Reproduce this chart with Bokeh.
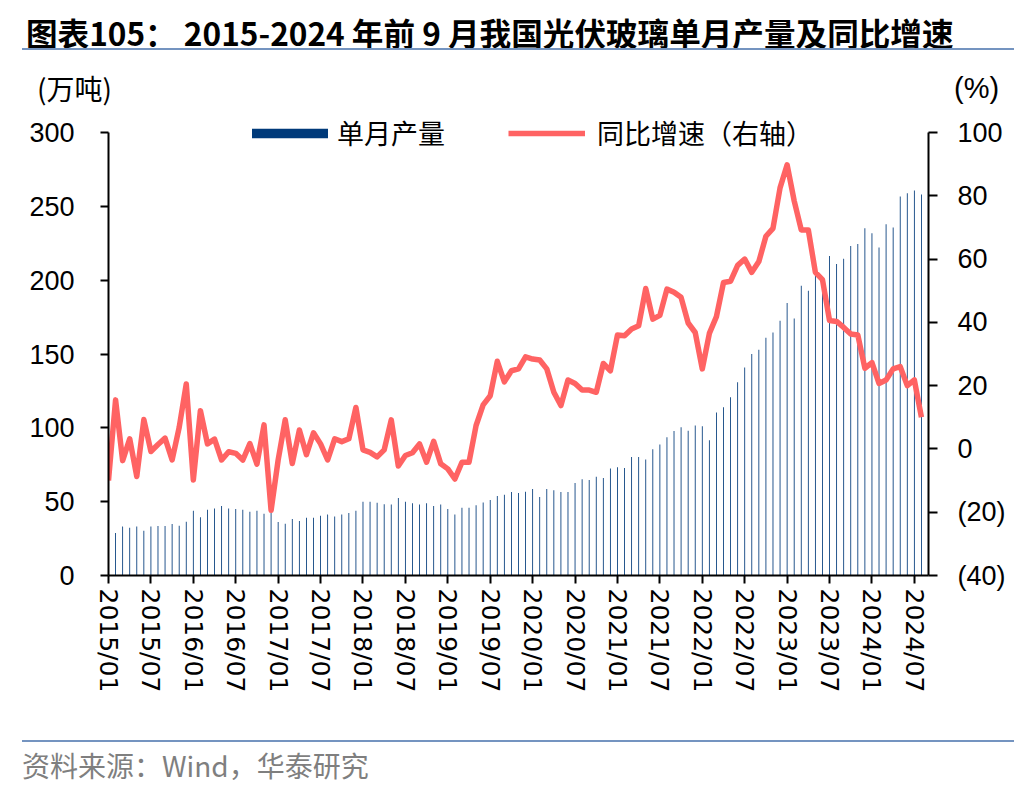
import numpy as np
from bokeh.plotting import figure
from bokeh.layouts import column
from bokeh.models import (Range1d, LinearAxis, FixedTicker, ColumnDataSource,
                          Legend, LegendItem, Div)
from bokeh.embed import file_html
from bokeh.resources import INLINE

# ---------------- data ----------------
months = [f"{y}/{m:02d}" for y in range(2015, 2025) for m in range(1, 13)][:116]

production = [  # 万吨
    np.nan, 28.8, 33.2, 32.3, 33.2, 30.3, 33.2, 33.5, 33.5, 34.8, 33.7, 36.4,
    43.8, 39.5, 44.6, 45.3, 47.0, 45.4, 45.1, 44.5, 43.1, 43.8, 41.8, 42.5,
    36.2, 35.1, 38.3, 36.9, 39.1, 39.1, 40.5, 41.3, 40.0, 41.3, 42.3, 43.8,
    49.9, 49.9, 49.2, 48.2, 48.0, 52.4, 49.9, 49.0, 48.0, 49.0, 47.0, 48.0,
    45.1, 41.3, 45.8, 45.8, 47.6, 49.4, 51.2, 53.9, 54.6, 56.6, 55.9, 56.8,
    58.6, 53.2, 58.6, 57.7, 56.6, 56.6, 62.7, 65.1, 64.7, 66.8, 66.0, 72.4,
    73.3, 72.8, 80.2, 80.2, 78.5, 85.5, 88.7, 93.7, 97.9, 100.4, 98.0, 101.6,
    101.0, 91.6, 110.4, 114.0, 120.7, 130.8, 140.8, 150.0, 152.8, 161.0, 164.5, 172.5,
    184.6, 174.0, 196.3, 192.8, 204.4, 201.0, 216.3, 210.9, 214.5, 223.1, 224.5, 235.2,
    231.7, 222.2, 237.8, 235.7, 256.6, 258.8, 260.7, 258.0,
]

yoy = [  # %
    -10.0, 15.5, -3.7, 3.2, -8.7, 9.3, -0.8, 1.4, 3.4, -3.5, 6.8, 20.5,
    -9.8, 12.1, 1.6, 3.1, -3.5, -0.9, -1.4, -3.5, 1.7, -4.8, 7.6, -19.4,
    -3.5, 9.2, -4.6, 6.0, -1.8, 5.1, 1.6, -3.5, 3.2, 2.3, 3.2, 13.1,
    -0.3, -1.1, -2.5, -0.3, 9.2, -5.4, -2.1, -1.2, 1.6, -4.2, 2.4, -4.7,
    -6.3, -9.5, -4.2, -4.2, 7.4, 13.9, 16.8, 27.7, 21.2, 24.7, 25.3, 29.1,
    28.4, 28.1, 25.3, 17.9, 13.7, 21.8, 20.7, 18.6, 18.6, 17.9, 27.0, 24.7,
    36.0, 35.8, 37.9, 38.9, 50.7, 41.0, 42.2, 50.5, 49.5, 47.9, 39.8, 36.8,
    25.3, 36.5, 41.8, 52.6, 53.0, 58.0, 60.0, 55.8, 59.2, 67.2, 69.7, 82.5,
    89.8, 78.4, 69.2, 69.2, 55.8, 53.5, 40.6, 40.3, 38.4, 36.3, 36.0, 25.5,
    27.3, 20.7, 21.8, 25.3, 26.0, 20.0, 21.8, 10.0,
]

tick_labels = ["2015/01", "2015/07", "2016/01", "2016/07", "2017/01", "2017/07",
               "2018/01", "2018/07", "2019/01", "2019/07", "2020/01", "2020/07",
               "2021/01", "2021/07", "2022/01", "2022/07", "2023/01", "2023/07",
               "2024/01", "2024/07"]
left_ticks = [0, 50, 100, 150, 200, 250, 300]
right_ticks = [-40, -20, 0, 20, 40, 60, 80, 100]

title_text = "图表105： 2015-2024 年前 9 月我国光伏玻璃单月产量及同比增速"
left_unit = "(万吨)"
right_unit = "(%)"
source_text = "资料来源：Wind，华泰研究"

# ---------------- layout constants ----------------
W = 1036
HEAD_H, CHART_H, FOOT_H = 108, 605, 75
FL, FR = 108, 928            # frame left / right (px)
FT, FB = 4, 467              # frame top / bottom inside chart figure
TOP300 = 24                  # pixel row of the 300 / 100 ticks
X0, X1 = 0, 116
LEFT_MAX = 300 * (FB - FT) / (FB - TOP300)
RIGHT_MAX = -40 + 140 * (FB - FT) / (FB - TOP300)

NAVY = "#003a7a"
RED = "#ff6363"
RULE = "#7494c0"
CJK = "Noto Sans CJK SC"


def abs_text(text, left, top, size, lh, family, weight="normal", color="#000"):
    return (f'<div style="position:absolute;left:{left}px;top:{top}px;'
            f'font-family:{family};font-weight:{weight};font-size:{size}px;'
            f'line-height:{lh}px;white-space:nowrap;color:{color};">{text}</div>')


def abs_rule(top):
    return (f'<div style="position:absolute;left:22px;top:{top}px;width:992px;'
            f'height:2px;background:{RULE};"></div>')


# ---------------- header ----------------
head_html = (f'<div style="position:relative;width:{W}px;height:{HEAD_H}px;">'
             + abs_text(title_text, 26, 12, 31.6, 40, f"'{CJK}'", weight="bold")
             + abs_rule(48)
             + abs_text(left_unit, 37, 72, 28, 32, f"'{CJK}'")
             + abs_text(right_unit, 954, 72, 29, 32, "'Liberation Sans'")
             + '</div>')
head = Div(text=head_html, width=W, height=HEAD_H, margin=0)

# ---------------- chart ----------------
p = figure(width=W, height=CHART_H, output_backend="svg", toolbar_location=None,
           title=None, x_range=Range1d(X0, X1), y_range=Range1d(0, LEFT_MAX),
           min_border_left=FL, min_border_right=W - FR,
           min_border_top=FT, min_border_bottom=CHART_H - FB)
p.outline_line_color = None
p.xgrid.grid_line_color = None
p.ygrid.grid_line_color = None
p.background_fill_color = "white"
p.border_fill_color = "white"
p.extra_y_ranges = {"pct": Range1d(-40, RIGHT_MAX)}

src = ColumnDataSource(dict(x=list(range(len(months))), month=months,
                            prod=production, yoy=yoy))

bars = p.vbar(x="x", top="prod", bottom=0, width=0.12, source=src,
              fill_color=NAVY, line_color=None)
ln = p.line(x="x", y="yoy", source=src, y_range_name="pct",
            line_color=RED, line_width=5.5, line_join="round")


def style_axis(ax, tick_out, standoff, size, font):
    ax.major_tick_out = tick_out
    ax.major_tick_in = 0
    ax.minor_tick_out = 0
    ax.minor_tick_in = 0
    ax.axis_line_width = 2
    ax.major_tick_line_width = 2
    ax.axis_line_color = "black"
    ax.major_tick_line_color = "black"
    ax.major_label_text_color = "black"
    ax.major_label_standoff = standoff
    ax.major_label_text_font = font
    ax.major_label_text_font_size = size


xa = p.xaxis[0]
xa.ticker = FixedTicker(ticks=[i for i in range(0, 115, 6)])
xa.major_label_overrides = {i * 6: lbl for i, lbl in enumerate(tick_labels)}
xa.major_label_orientation = "vertical"
style_axis(xa, 8, 5, "25px", "DejaVu Sans")

ya = p.yaxis[0]
ya.ticker = FixedTicker(ticks=left_ticks)
ya.bounds = (0, 300)
style_axis(ya, 8, 26, "27px", "Liberation Sans")

ra = LinearAxis(y_range_name="pct", ticker=FixedTicker(ticks=right_ticks))
ra.bounds = (-40, 100)
ra.major_label_overrides = {-40: "(40)", -20: "(20)"}
style_axis(ra, 9, 20, "27px", "Liberation Sans")
p.add_layout(ra, "right")

common = dict(orientation="horizontal", padding=0, margin=0, spacing=0,
              border_line_color=None, background_fill_alpha=0,
              label_text_font=CJK, label_text_font_size="27px",
              label_text_color="black")
leg1 = Legend(items=[LegendItem(label="单月产量", renderers=[bars])],
              location=(134, 423), glyph_width=95, glyph_height=12,
              label_standoff=0, **common)
leg2 = Legend(items=[LegendItem(label="同比增速（右轴）", renderers=[ln])],
              location=(400, 423), glyph_width=77, glyph_height=12,
              label_standoff=12, **common)
p.add_layout(leg1)
p.add_layout(leg2)

# ---------------- footer ----------------
foot_html = (f'<div style="position:relative;width:{W}px;height:{FOOT_H}px;">'
             + abs_rule(27)
             + abs_text(source_text, 22, 36, 28, 32, f"'{CJK}'", color="#7f7f7f")
             + '</div>')
foot = Div(text=foot_html, width=W, height=FOOT_H, margin=0)

layout = column(head, p, foot, spacing=0)
open("out.html", "w").write(file_html(layout, INLINE))
